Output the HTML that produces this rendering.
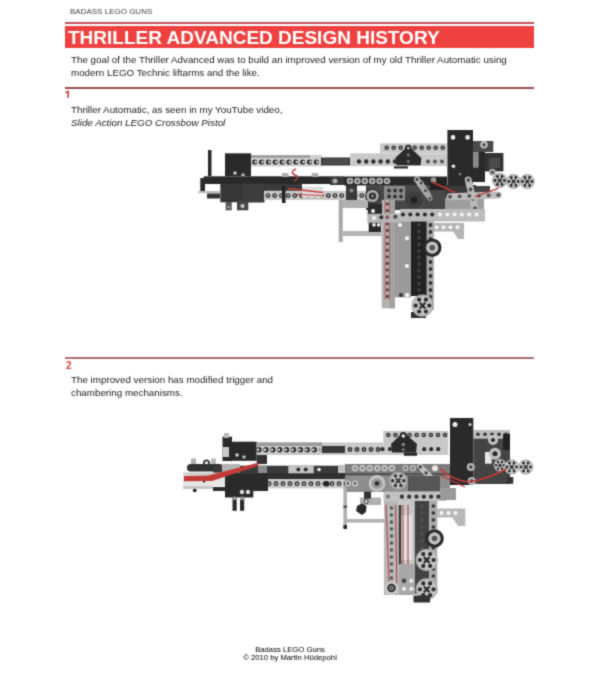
<!DOCTYPE html>
<html><head><meta charset="utf-8">
<style>
html,body{margin:0;padding:0;background:#fff;}
body{width:600px;height:675px;position:relative;overflow:hidden;filter:url(#sb);font-family:"Liberation Sans",sans-serif;color:#333;}
.abs{position:absolute;white-space:nowrap;}
#hdr{left:70px;top:7px;font-size:8px;color:#444;letter-spacing:0px;}
#rl0{left:65px;top:22px;width:469px;height:2px;background:#c3515d;}
#tbox{left:65px;top:26px;width:469px;height:22px;background:#ef4240;}
#title{left:68px;top:27px;font-size:19px;font-weight:bold;color:#fff;line-height:22px;}
.body{font-size:9.8px;line-height:12.5px;color:#222;}
.rl{position:absolute;left:65px;width:469px;height:2px;background:#974c4c;}
.num{font-size:10px;font-weight:bold;color:#e04040;}
#foot{left:-10px;width:600px;text-align:center;top:646px;font-size:7.7px;line-height:7.5px;color:#000;}
svg{position:absolute;left:0;top:0;}
</style></head>
<body>
<svg width="0" height="0" style="position:absolute"><filter id="sb" color-interpolation-filters="sRGB" x="0" y="0" width="100%" height="100%"><feConvolveMatrix order="3" kernelMatrix="0.02768 0.11101 0.02768 0.11101 0.44521 0.11101 0.02768 0.11101 0.02768" edgeMode="duplicate"/></filter></svg>
<div class="abs" id="hdr">BADASS LEGO GUNS</div>
<div class="abs" id="rl0"></div>
<div class="abs" id="tbox"></div>
<div class="abs" id="title">THRILLER ADVANCED DESIGN HISTORY</div>
<div class="abs body" style="left:71px;top:54px;">The goal of the Thriller Advanced was to build an improved version of my old Thriller Automatic using<br>modern LEGO Technic liftarms and the like.</div>
<div class="rl" style="top:86.5px;"></div>
<svg width="12" height="12" viewBox="0 0 12 12" style="position:absolute;left:63px;top:89px;"><path d="M4.2,1.6 L6,1.6 L6,8.8 L4.2,8.8 Z M2.2,3.4 L4.2,1.6 L4.2,3.6 L2.2,4.8 Z" fill="#d84a4a"/></svg>
<div class="abs body" style="left:71px;top:104px;">Thriller Automatic, as seen in my YouTube video,<br><i>Slide Action LEGO Crossbow Pistol</i></div>
<div class="rl" style="top:357px;background:#ab6f6f;"></div>
<div class="abs num" style="left:66px;top:359.5px;">2</div>
<div class="abs body" style="left:71px;top:374px;">The improved version has modified trigger and<br>chambering mechanisms.</div>
<div class="abs" id="foot">Badass LEGO Guns<br>© 2010 by Martin Hüdepohl</div>


























<!--GUNS--><svg width="600" height="675" viewBox="0 0 600 675"><rect x="208" y="150" width="3.5" height="26" fill="#2a2a2a" />
<rect x="250" y="155" width="72" height="11.5" fill="#cfcfcf" />
<rect x="250" y="155.3" width="60" height="2.5" fill="#9a9a9a" />
<circle cx="254.7" cy="162" r="2.6" fill="#2e2e2e" />
<circle cx="255.6" cy="162" r="1.2" fill="#dcdcdc" />
<circle cx="261.55" cy="162" r="2.6" fill="#2e2e2e" />
<circle cx="262.45" cy="162" r="1.2" fill="#dcdcdc" />
<circle cx="268.4" cy="162" r="2.6" fill="#2e2e2e" />
<circle cx="269.3" cy="162" r="1.2" fill="#dcdcdc" />
<circle cx="275.25" cy="162" r="2.6" fill="#2e2e2e" />
<circle cx="276.15" cy="162" r="1.2" fill="#dcdcdc" />
<circle cx="282.1" cy="162" r="2.6" fill="#2e2e2e" />
<circle cx="283.0" cy="162" r="1.2" fill="#dcdcdc" />
<circle cx="288.95" cy="162" r="2.6" fill="#2e2e2e" />
<circle cx="289.85" cy="162" r="1.2" fill="#dcdcdc" />
<circle cx="295.8" cy="162" r="2.6" fill="#2e2e2e" />
<circle cx="296.7" cy="162" r="1.2" fill="#dcdcdc" />
<circle cx="302.65" cy="162" r="2.6" fill="#2e2e2e" />
<circle cx="303.55" cy="162" r="1.2" fill="#dcdcdc" />
<circle cx="309.5" cy="162" r="2.6" fill="#2e2e2e" />
<circle cx="310.4" cy="162" r="1.2" fill="#dcdcdc" />
<circle cx="316.35" cy="162" r="2.6" fill="#2e2e2e" />
<circle cx="317.25" cy="162" r="1.2" fill="#dcdcdc" />
<rect x="321" y="157.5" width="29" height="8.0" fill="#3c3c3c" />
<rect x="323" y="159" width="25" height="5" fill="#4c4c4c" />
<rect x="350" y="153.3" width="97" height="12.7" fill="#c9c9c9" />
<circle cx="359" cy="161.5" r="2.2" fill="#2e2e2e" />
<circle cx="366.2" cy="161.5" r="2.2" fill="#2e2e2e" />
<circle cx="373.4" cy="161.5" r="2.2" fill="#2e2e2e" />
<circle cx="380.6" cy="161.5" r="2.2" fill="#2e2e2e" />
<circle cx="387.8" cy="161.5" r="2.2" fill="#2e2e2e" />
<circle cx="395.0" cy="161.5" r="2.2" fill="#2e2e2e" />
<circle cx="428" cy="161.5" r="2" fill="#555" />
<circle cx="435" cy="161.5" r="2" fill="#555" />
<circle cx="442" cy="161.5" r="2" fill="#555" />
<rect x="380" y="143.3" width="67" height="9.7" fill="#c9c9c9" />
<circle cx="386.7" cy="147.8" r="2.3" fill="#3a3a3a" />
<circle cx="386.7" cy="147.8" r="0.9" fill="#a0a0a0" />
<circle cx="393.7" cy="147.8" r="2.3" fill="#3a3a3a" />
<circle cx="393.7" cy="147.8" r="0.9" fill="#a0a0a0" />
<circle cx="400.7" cy="147.8" r="2.3" fill="#3a3a3a" />
<circle cx="400.7" cy="147.8" r="0.9" fill="#a0a0a0" />
<circle cx="407.7" cy="147.8" r="2.3" fill="#3a3a3a" />
<circle cx="407.7" cy="147.8" r="0.9" fill="#a0a0a0" />
<circle cx="414.7" cy="147.8" r="2.3" fill="#3a3a3a" />
<circle cx="414.7" cy="147.8" r="0.9" fill="#a0a0a0" />
<circle cx="421.7" cy="147.8" r="2.3" fill="#3a3a3a" />
<circle cx="421.7" cy="147.8" r="0.9" fill="#a0a0a0" />
<circle cx="428.7" cy="147.8" r="2.3" fill="#3a3a3a" />
<circle cx="428.7" cy="147.8" r="0.9" fill="#a0a0a0" />
<circle cx="435.7" cy="147.8" r="2.3" fill="#3a3a3a" />
<circle cx="435.7" cy="147.8" r="0.9" fill="#a0a0a0" />
<circle cx="442.7" cy="147.8" r="2.3" fill="#3a3a3a" />
<circle cx="442.7" cy="147.8" r="0.9" fill="#a0a0a0" />
<polygon points="408.3,145.5 395.3,158 396.3,165.3 420.7,165.3 421.3,158" fill="#2a2a2a" />
<circle cx="408.3" cy="148" r="3.2" fill="#2a2a2a" />
<circle cx="408.3" cy="148" r="1.5" fill="#aaa" />
<circle cx="408.3" cy="155" r="1.6" fill="#777" />
<circle cx="408.3" cy="161.5" r="1.6" fill="#777" />
<rect x="394" y="166.3" width="14" height="2.2" fill="#2a2a2a" />
<rect x="225" y="153.3" width="26" height="23.0" fill="#2a2a2a" />
<circle cx="235" cy="173" r="1.8" fill="#ccc" />
<circle cx="243" cy="175" r="1.8" fill="#bbb" />
<rect x="203.7" y="176.3" width="140.3" height="7.7" fill="#2a2a2a" />
<rect x="200.3" y="178" width="4.7" height="13.7" fill="#2a2a2a" />
<rect x="198.3" y="191" width="21.4" height="2.2" fill="#bdbdbd" />
<rect x="207" y="193.5" width="13" height="5.0" fill="#333" />
<rect x="220.3" y="183.7" width="44.0" height="18.6" fill="#363636" />
<rect x="242" y="183.7" width="22.3" height="18.6" fill="#3d3d3d" />
<rect x="225.7" y="202" width="6.0" height="8.3" fill="#555" />
<rect x="237" y="201" width="11.3" height="9.3" fill="#444" />
<circle cx="242.5" cy="206" r="2.2" fill="#bbb" />
<circle cx="228.7" cy="207" r="1.6" fill="#999" />
<rect x="282" y="173" width="6.5" height="4" fill="#b0b0b0" />
<rect x="311.7" y="173" width="6.6" height="4" fill="#b0b0b0" />
<rect x="264" y="190.8" width="102" height="9.2" fill="#c9c9c9" />
<circle cx="268" cy="195.6" r="2.4" fill="#2e2e2e" />
<circle cx="268" cy="195.6" r="1.0" fill="#d0d0d0" />
<circle cx="274.7" cy="195.6" r="2.4" fill="#2e2e2e" />
<circle cx="274.7" cy="195.6" r="1.0" fill="#d0d0d0" />
<circle cx="281.4" cy="195.6" r="2.4" fill="#2e2e2e" />
<circle cx="281.4" cy="195.6" r="1.0" fill="#d0d0d0" />
<circle cx="288.1" cy="195.6" r="2.4" fill="#2e2e2e" />
<circle cx="288.1" cy="195.6" r="1.0" fill="#d0d0d0" />
<circle cx="294.8" cy="195.6" r="2.4" fill="#2e2e2e" />
<circle cx="294.8" cy="195.6" r="1.0" fill="#d0d0d0" />
<circle cx="301.5" cy="195.6" r="2.4" fill="#2e2e2e" />
<circle cx="301.5" cy="195.6" r="1.0" fill="#d0d0d0" />
<circle cx="308.2" cy="195.6" r="2.4" fill="#2e2e2e" />
<circle cx="308.2" cy="195.6" r="1.0" fill="#d0d0d0" />
<circle cx="314.9" cy="195.6" r="2.4" fill="#2e2e2e" />
<circle cx="314.9" cy="195.6" r="1.0" fill="#d0d0d0" />
<circle cx="321.6" cy="195.6" r="2.4" fill="#2e2e2e" />
<circle cx="321.6" cy="195.6" r="1.0" fill="#d0d0d0" />
<circle cx="328.3" cy="195.6" r="2.4" fill="#2e2e2e" />
<circle cx="328.3" cy="195.6" r="1.0" fill="#d0d0d0" />
<circle cx="335.0" cy="195.6" r="2.4" fill="#2e2e2e" />
<circle cx="335.0" cy="195.6" r="1.0" fill="#d0d0d0" />
<circle cx="341.7" cy="195.6" r="2.4" fill="#2e2e2e" />
<circle cx="341.7" cy="195.6" r="1.0" fill="#d0d0d0" />
<circle cx="348.4" cy="195.6" r="2.4" fill="#2e2e2e" />
<circle cx="348.4" cy="195.6" r="1.0" fill="#d0d0d0" />
<circle cx="355.1" cy="195.6" r="2.4" fill="#2e2e2e" />
<circle cx="355.1" cy="195.6" r="1.0" fill="#d0d0d0" />
<circle cx="361.8" cy="195.6" r="2.4" fill="#2e2e2e" />
<circle cx="361.8" cy="195.6" r="1.0" fill="#d0d0d0" />
<rect x="264" y="184" width="38" height="6.8" fill="#3a3a3a" />
<rect x="282" y="185.7" width="3.5" height="17.3" fill="#222" />
<rect x="346" y="185" width="11" height="15" fill="#3a3a3a" />
<circle cx="351.5" cy="190.5" r="2" fill="#888" />
<rect x="302" y="186.7" width="21.3" height="10.8" fill="#dedede" />
<path d="M296,169 q-7,3 -1,6 q6,2 -1,6" stroke="#c23b37" stroke-width="1.4" fill="none" />
<line x1="288" y1="188.5" x2="323" y2="192.5" stroke="#c23b37" stroke-width="1.4" />
<line x1="297" y1="194.5" x2="323" y2="195.5" stroke="#c23b37" stroke-width="1.2" />
<rect x="344" y="176.5" width="103" height="9.0" fill="#2a2a2a" />
<circle cx="350" cy="181" r="3.3" fill="#b5b5b5" />
<circle cx="350" cy="181" r="1.4" fill="#5a5a5a" />
<circle cx="357.4" cy="181" r="3.3" fill="#b5b5b5" />
<circle cx="357.4" cy="181" r="1.4" fill="#5a5a5a" />
<circle cx="364.8" cy="181" r="3.3" fill="#b5b5b5" />
<circle cx="364.8" cy="181" r="1.4" fill="#5a5a5a" />
<circle cx="372.2" cy="181" r="3.3" fill="#b5b5b5" />
<circle cx="372.2" cy="181" r="1.4" fill="#5a5a5a" />
<circle cx="379.6" cy="181" r="3.3" fill="#b5b5b5" />
<circle cx="379.6" cy="181" r="1.4" fill="#5a5a5a" />
<circle cx="387.0" cy="181" r="3.3" fill="#b5b5b5" />
<circle cx="387.0" cy="181" r="1.4" fill="#5a5a5a" />
<rect x="330" y="177" width="14" height="8" fill="#3a3a3a" />
<circle cx="335" cy="181" r="2.5" fill="#aaa" />
<rect x="366" y="185" width="79" height="25" fill="#474747" />
<circle cx="372.5" cy="196" r="7.5" fill="#2a2a2a" />
<circle cx="372.5" cy="196" r="6.3" fill="#a8a8a8" />
<circle cx="372.5" cy="196" r="3.6" fill="#2e2e2e" />
<circle cx="372.5" cy="196" r="1.4" fill="#888" />
<rect x="367.7" y="204" width="18.0" height="11" fill="#2e2e2e" />
<circle cx="373" cy="211" r="2" fill="#eee" />
<rect x="384" y="186" width="21" height="14.5" fill="#8c8c8c" />
<circle cx="389" cy="190.5" r="1.9" fill="#333" />
<circle cx="395" cy="190.5" r="1.9" fill="#333" />
<circle cx="401" cy="190.5" r="1.9" fill="#333" />
<circle cx="389" cy="196.5" r="1.9" fill="#333" />
<circle cx="395" cy="196.5" r="1.9" fill="#333" />
<circle cx="401" cy="196.5" r="1.9" fill="#333" />
<circle cx="414" cy="200" r="8.5" fill="#3d3d3d" />
<circle cx="414" cy="200" r="3.57" fill="#222" />
<line x1="417" y1="179.5" x2="428" y2="195" stroke="#b8b8b8" stroke-width="6" stroke-linecap="round"/>
<circle cx="417.0" cy="179.5" r="1.68" fill="#444" />
<circle cx="422.5" cy="187.25" r="1.68" fill="#444" />
<circle cx="428.0" cy="195.0" r="1.68" fill="#444" />
<line x1="421" y1="183" x2="430" y2="198.3" stroke="#a5a5a5" stroke-width="5" stroke-linecap="round"/>
<circle cx="421.0" cy="183.0" r="1.4" fill="#444" />
<circle cx="425.5" cy="190.65" r="1.4" fill="#444" />
<circle cx="430.0" cy="198.3" r="1.4" fill="#444" />
<rect x="430" y="178" width="17" height="12" fill="#232323" />
<circle cx="433.5" cy="180" r="2.8" fill="#999" />
<rect x="445" y="185" width="31" height="15" fill="#3a3a3a" />
<rect x="445" y="198" width="39" height="12" fill="#9e9e9e" />
<rect x="476" y="186" width="14" height="12" fill="#444" />
<rect x="447.4" y="130" width="25.6" height="56" fill="#2a2a2a" />
<circle cx="453" cy="137.4" r="2.3" fill="#eee" />
<circle cx="467.6" cy="137.4" r="2.3" fill="#eee" />
<circle cx="453.4" cy="166.2" r="1.8" fill="#eee" />
<circle cx="460" cy="174" r="1.5" fill="#777" />
<rect x="473" y="141" width="20.3" height="11" fill="#4a4a4a" />
<circle cx="484" cy="144.8" r="3.8" fill="#bdbdbd" />
<circle cx="484" cy="144.8" r="1.6" fill="#444" />
<rect x="473" y="152" width="12" height="30" fill="#2a2a2a" />
<rect x="473" y="152" width="5.6" height="15.7" fill="#8a8a8a" />
<rect x="485" y="153" width="18.4" height="18.4" fill="#333" />
<rect x="489" y="158" width="11" height="10" fill="#4a4a4a" />
<circle cx="492.4" cy="172.3" r="3.5" fill="#b0b0b0" />
<circle cx="492.4" cy="172.3" r="1.5" fill="#444" />
<circle cx="499.7" cy="180.5" r="7.5" fill="#bdbdbd" />
<circle cx="499.7" cy="180.5" r="6.98" fill="none" stroke="#8a8a8a" stroke-width="0.6"/>
<circle cx="504.35" cy="180.5" r="1.43" fill="#2a2a2a" />
<circle cx="502.02" cy="184.53" r="1.43" fill="#2a2a2a" />
<circle cx="497.38" cy="184.53" r="1.43" fill="#2a2a2a" />
<circle cx="495.05" cy="180.5" r="1.43" fill="#2a2a2a" />
<circle cx="497.38" cy="176.47" r="1.43" fill="#2a2a2a" />
<circle cx="502.02" cy="176.47" r="1.43" fill="#2a2a2a" />
<line x1="497.75" y1="178.55" x2="501.65" y2="182.45" stroke="#2a2a2a" stroke-width="1.5" />
<line x1="497.75" y1="182.45" x2="501.65" y2="178.55" stroke="#2a2a2a" stroke-width="1.5" />
<circle cx="513.5" cy="181.5" r="7.5" fill="#c8c8c8" />
<circle cx="513.5" cy="181.5" r="6.98" fill="none" stroke="#8a8a8a" stroke-width="0.6"/>
<circle cx="518.15" cy="181.5" r="1.43" fill="#2a2a2a" />
<circle cx="515.83" cy="185.53" r="1.43" fill="#2a2a2a" />
<circle cx="511.18" cy="185.53" r="1.43" fill="#2a2a2a" />
<circle cx="508.85" cy="181.5" r="1.43" fill="#2a2a2a" />
<circle cx="511.18" cy="177.47" r="1.43" fill="#2a2a2a" />
<circle cx="515.83" cy="177.47" r="1.43" fill="#2a2a2a" />
<line x1="511.55" y1="179.55" x2="515.45" y2="183.45" stroke="#2a2a2a" stroke-width="1.5" />
<line x1="511.55" y1="183.45" x2="515.45" y2="179.55" stroke="#2a2a2a" stroke-width="1.5" />
<circle cx="527.2" cy="181.5" r="7.5" fill="#c8c8c8" />
<circle cx="527.2" cy="181.5" r="6.98" fill="none" stroke="#8a8a8a" stroke-width="0.6"/>
<circle cx="531.85" cy="181.5" r="1.43" fill="#2a2a2a" />
<circle cx="529.53" cy="185.53" r="1.43" fill="#2a2a2a" />
<circle cx="524.88" cy="185.53" r="1.43" fill="#2a2a2a" />
<circle cx="522.55" cy="181.5" r="1.43" fill="#2a2a2a" />
<circle cx="524.88" cy="177.47" r="1.43" fill="#2a2a2a" />
<circle cx="529.53" cy="177.47" r="1.43" fill="#2a2a2a" />
<line x1="525.25" y1="179.55" x2="529.15" y2="183.45" stroke="#2a2a2a" stroke-width="1.5" />
<line x1="525.25" y1="183.45" x2="529.15" y2="179.55" stroke="#2a2a2a" stroke-width="1.5" />
<line x1="468.3" y1="180" x2="475" y2="208.3" stroke="#bababa" stroke-width="7" stroke-linecap="round"/>
<circle cx="468.3" cy="180.0" r="1.96" fill="#555" />
<circle cx="470.53" cy="189.43" r="1.96" fill="#555" />
<circle cx="472.77" cy="198.87" r="1.96" fill="#555" />
<circle cx="475.0" cy="208.3" r="1.96" fill="#555" />
<line x1="450" y1="196.7" x2="498.3" y2="195" stroke="#bcbcbc" stroke-width="7" stroke-linecap="round"/>
<circle cx="450.0" cy="196.7" r="1.96" fill="#555" />
<circle cx="459.66" cy="196.36" r="1.96" fill="#555" />
<circle cx="469.32" cy="196.02" r="1.96" fill="#555" />
<circle cx="478.98" cy="195.68" r="1.96" fill="#555" />
<circle cx="488.64" cy="195.34" r="1.96" fill="#555" />
<circle cx="498.3" cy="195.0" r="1.96" fill="#555" />
<line x1="431.7" y1="181.7" x2="455" y2="192.5" stroke="#c23b37" stroke-width="1.6" />
<line x1="475" y1="196.7" x2="498.3" y2="188.3" stroke="#c23b37" stroke-width="1.4" />
<rect x="381.7" y="200" width="13.3" height="108.3" fill="#b2b2b2" />
<rect x="389.4" y="200" width="5.6" height="108.3" fill="#a2a2a2" />
<line x1="385.2" y1="201" x2="385.2" y2="300" stroke="#c05050" stroke-width="1.0" />
<line x1="389.4" y1="201" x2="389.4" y2="300" stroke="#c05050" stroke-width="1.0" />
<circle cx="387.3" cy="204" r="1.6" fill="#4a4a4a" />
<circle cx="387.3" cy="210.6" r="1.6" fill="#4a4a4a" />
<circle cx="387.3" cy="217.2" r="1.6" fill="#4a4a4a" />
<circle cx="387.3" cy="223.8" r="1.6" fill="#4a4a4a" />
<circle cx="387.3" cy="230.4" r="1.6" fill="#4a4a4a" />
<circle cx="387.3" cy="237.0" r="1.6" fill="#4a4a4a" />
<circle cx="387.3" cy="243.6" r="1.6" fill="#4a4a4a" />
<circle cx="387.3" cy="250.2" r="1.6" fill="#4a4a4a" />
<circle cx="387.3" cy="256.8" r="1.6" fill="#4a4a4a" />
<circle cx="387.3" cy="263.4" r="1.6" fill="#4a4a4a" />
<circle cx="387.3" cy="270.0" r="1.6" fill="#4a4a4a" />
<circle cx="387.3" cy="276.6" r="1.6" fill="#4a4a4a" />
<circle cx="387.3" cy="283.2" r="1.6" fill="#4a4a4a" />
<circle cx="387.3" cy="289.8" r="1.6" fill="#4a4a4a" />
<circle cx="387.3" cy="296.4" r="1.6" fill="#4a4a4a" />
<rect x="395" y="220.5" width="16" height="76.9" fill="#9a9a9a" />
<circle cx="400" cy="225" r="2.1" fill="#f4f4f4" />
<circle cx="407" cy="238.3" r="2.1" fill="#f4f4f4" />
<circle cx="407" cy="266" r="2.1" fill="#f4f4f4" />
<circle cx="415" cy="238.3" r="2.1" fill="#f4f4f4" />
<circle cx="415" cy="268" r="2.1" fill="#f4f4f4" />
<circle cx="407" cy="295" r="2.1" fill="#f4f4f4" />
<rect x="411" y="220.5" width="15.8" height="75.5" fill="#232323" />
<circle cx="419" cy="225" r="1.8" fill="#444" />
<circle cx="419" cy="231.5" r="1.8" fill="#444" />
<circle cx="419" cy="238.0" r="1.8" fill="#444" />
<circle cx="419" cy="244.5" r="1.8" fill="#444" />
<circle cx="419" cy="251.0" r="1.8" fill="#444" />
<circle cx="419" cy="257.5" r="1.8" fill="#444" />
<circle cx="419" cy="264.0" r="1.8" fill="#444" />
<circle cx="419" cy="270.5" r="1.8" fill="#444" />
<circle cx="419" cy="277.0" r="1.8" fill="#444" />
<circle cx="419" cy="283.5" r="1.8" fill="#444" />
<circle cx="419" cy="290.0" r="1.8" fill="#444" />
<rect x="426.8" y="220.5" width="7.2" height="89.5" fill="#ababab" />
<circle cx="430.5" cy="225" r="1.9" fill="#333" />
<circle cx="430.5" cy="232" r="1.9" fill="#333" />
<circle cx="430.5" cy="239" r="1.9" fill="#333" />
<circle cx="430.5" cy="262" r="1.9" fill="#333" />
<circle cx="430.5" cy="269" r="1.9" fill="#333" />
<circle cx="430.5" cy="276" r="1.9" fill="#333" />
<circle cx="430.5" cy="283" r="1.9" fill="#333" />
<circle cx="430.5" cy="290" r="1.9" fill="#333" />
<circle cx="430.5" cy="297" r="1.9" fill="#333" />
<circle cx="430.5" cy="304" r="1.9" fill="#333" />
<circle cx="432.2" cy="247.7" r="9.3" fill="#2a2a2a" />
<circle cx="432.2" cy="247.7" r="6.14" fill="#c2c2c2" />
<circle cx="432.2" cy="247.7" r="2.79" fill="#555" />
<rect x="411" y="312" width="15" height="6" fill="#333" />
<circle cx="422.5" cy="305.6" r="11" fill="#c4c4c4" />
<circle cx="422.5" cy="305.6" r="10.23" fill="none" stroke="#8a8a8a" stroke-width="0.6"/>
<circle cx="429.32" cy="305.6" r="2.09" fill="#2a2a2a" />
<circle cx="425.91" cy="311.51" r="2.09" fill="#2a2a2a" />
<circle cx="419.09" cy="311.51" r="2.09" fill="#2a2a2a" />
<circle cx="415.68" cy="305.6" r="2.09" fill="#2a2a2a" />
<circle cx="419.09" cy="299.69" r="2.09" fill="#2a2a2a" />
<circle cx="425.91" cy="299.69" r="2.09" fill="#2a2a2a" />
<line x1="419.64" y1="302.74" x2="425.36" y2="308.46" stroke="#2a2a2a" stroke-width="2.2" />
<line x1="419.64" y1="308.46" x2="425.36" y2="302.74" stroke="#2a2a2a" stroke-width="2.2" />
<circle cx="401" cy="295" r="2" fill="#333" />
<circle cx="407.5" cy="295" r="2" fill="#f2f2f2" />
<rect x="400" y="209" width="85" height="12.5" fill="#bcbcbc" />
<circle cx="403" cy="214.5" r="2.1" fill="#2e2e2e" />
<circle cx="410.3" cy="214.5" r="2.1" fill="#2e2e2e" />
<circle cx="417.6" cy="214.5" r="2.1" fill="#2e2e2e" />
<circle cx="424.9" cy="214.5" r="2.1" fill="#2e2e2e" />
<circle cx="432.2" cy="214.5" r="2.1" fill="#2e2e2e" />
<circle cx="440" cy="214.5" r="2.1" fill="#f2f2f2" />
<circle cx="447.3" cy="214.5" r="2.1" fill="#f2f2f2" />
<circle cx="454.6" cy="214.5" r="2.1" fill="#f2f2f2" />
<circle cx="461.9" cy="214.5" r="2.1" fill="#f2f2f2" />
<circle cx="469.2" cy="214.5" r="2.1" fill="#f2f2f2" />
<circle cx="476.5" cy="214.5" r="2.1" fill="#f2f2f2" />
<rect x="367.3" y="213.5" width="32.7" height="9.2" fill="#b6b6b6" />
<circle cx="374" cy="218" r="2" fill="#f2f2f2" />
<circle cx="381.3" cy="217.3" r="2" fill="#2e2e2e" />
<circle cx="387.3" cy="217.3" r="2" fill="#8a5a5a" />
<circle cx="395.3" cy="216.7" r="2" fill="#444" />
<rect x="368" y="204" width="14" height="9.5" fill="#2a2a2a" />
<circle cx="373" cy="211" r="2" fill="#eee" />
<rect x="339" y="200" width="29" height="8" fill="#b0b0b0" />
<rect x="338.7" y="200" width="4.0" height="42" fill="#a8a8a8" />
<rect x="342.7" y="231" width="39.0" height="5" fill="#b4b4b4" />
<rect x="368.7" y="222.7" width="12.3" height="9.3" fill="#2a2a2a" />
<circle cx="374" cy="224.9" r="1.8" fill="#eee" />
<circle cx="378.7" cy="224.9" r="1.8" fill="#eee" />
<rect x="434" y="223" width="30" height="8.5" fill="#b5b5b5" />
<circle cx="436.5" cy="227.3" r="2" fill="#f4f4f4" />
<circle cx="443.5" cy="227.3" r="2" fill="#f4f4f4" />
<circle cx="450.5" cy="227.3" r="2" fill="#f4f4f4" />
<circle cx="457.5" cy="227.3" r="2" fill="#f4f4f4" />
<polygon points="453,231 464,231 464,239 458,239" fill="#b5b5b5" />
<rect x="222.5" y="436.7" width="9.5" height="24.3" fill="#2a2a2a" />
<rect x="224" y="433" width="5" height="5" fill="#bbb" />
<rect x="228" y="441.7" width="28.7" height="19.1" fill="#2a2a2a" />
<rect x="222.5" y="447" width="6.5" height="10" fill="#c8c8c8" />
<circle cx="237" cy="455" r="1.8" fill="#ccc" />
<circle cx="244" cy="457" r="1.8" fill="#bbb" />
<rect x="256.7" y="442.5" width="126.6" height="12.5" fill="#c9c9c9" />
<rect x="256.7" y="442.4" width="65.3" height="3.6" fill="#9c9c9c" />
<circle cx="259" cy="449.8" r="2.7" fill="#2e2e2e" />
<circle cx="258.1" cy="449.8" r="1.3" fill="#e0e0e0" />
<circle cx="265.9" cy="449.8" r="2.7" fill="#2e2e2e" />
<circle cx="265.0" cy="449.8" r="1.3" fill="#e0e0e0" />
<circle cx="272.8" cy="449.8" r="2.7" fill="#2e2e2e" />
<circle cx="271.9" cy="449.8" r="1.3" fill="#e0e0e0" />
<circle cx="279.7" cy="449.8" r="2.7" fill="#2e2e2e" />
<circle cx="278.8" cy="449.8" r="1.3" fill="#e0e0e0" />
<circle cx="286.6" cy="449.8" r="2.7" fill="#2e2e2e" />
<circle cx="285.7" cy="449.8" r="1.3" fill="#e0e0e0" />
<circle cx="293.5" cy="449.8" r="2.7" fill="#2e2e2e" />
<circle cx="292.6" cy="449.8" r="1.3" fill="#e0e0e0" />
<circle cx="300.4" cy="449.8" r="2.7" fill="#2e2e2e" />
<circle cx="299.5" cy="449.8" r="1.3" fill="#e0e0e0" />
<circle cx="307.3" cy="449.8" r="2.7" fill="#2e2e2e" />
<circle cx="306.4" cy="449.8" r="1.3" fill="#e0e0e0" />
<circle cx="314.2" cy="449.8" r="2.7" fill="#2e2e2e" />
<circle cx="313.3" cy="449.8" r="1.3" fill="#e0e0e0" />
<circle cx="320.3" cy="449.8" r="2.4" fill="#aaa" />
<rect x="322" y="446" width="23" height="7" fill="#3a3a3a" />
<circle cx="350" cy="449.5" r="2.4" fill="#2e2e2e" />
<circle cx="350" cy="449.5" r="0.9" fill="#aaa" />
<circle cx="357" cy="449.5" r="2.4" fill="#2e2e2e" />
<circle cx="357" cy="449.5" r="0.9" fill="#aaa" />
<circle cx="364" cy="449.5" r="2.4" fill="#2e2e2e" />
<circle cx="364" cy="449.5" r="0.9" fill="#aaa" />
<circle cx="371" cy="449.5" r="2.4" fill="#2e2e2e" />
<circle cx="371" cy="449.5" r="0.9" fill="#aaa" />
<circle cx="378" cy="449.5" r="2.4" fill="#2e2e2e" />
<circle cx="378" cy="449.5" r="0.9" fill="#aaa" />
<rect x="256.7" y="455" width="10.3" height="9" fill="#333" />
<rect x="383.3" y="430.8" width="65.0" height="9.2" fill="#c9c9c9" />
<circle cx="388.3" cy="435" r="2.3" fill="#333" />
<circle cx="388.3" cy="435" r="0.9" fill="#a0a0a0" />
<circle cx="395.4" cy="435" r="2.3" fill="#333" />
<circle cx="395.4" cy="435" r="0.9" fill="#a0a0a0" />
<circle cx="402.5" cy="435" r="2.3" fill="#333" />
<circle cx="402.5" cy="435" r="0.9" fill="#a0a0a0" />
<circle cx="409.6" cy="435" r="2.3" fill="#333" />
<circle cx="409.6" cy="435" r="0.9" fill="#a0a0a0" />
<circle cx="416.7" cy="435" r="2.3" fill="#333" />
<circle cx="416.7" cy="435" r="0.9" fill="#a0a0a0" />
<circle cx="423.8" cy="435" r="2.3" fill="#333" />
<circle cx="423.8" cy="435" r="0.9" fill="#a0a0a0" />
<circle cx="430.9" cy="435" r="2.3" fill="#333" />
<circle cx="430.9" cy="435" r="0.9" fill="#a0a0a0" />
<circle cx="438.0" cy="435" r="2.3" fill="#333" />
<circle cx="438.0" cy="435" r="0.9" fill="#a0a0a0" />
<circle cx="445.1" cy="435" r="2.3" fill="#333" />
<circle cx="445.1" cy="435" r="0.9" fill="#a0a0a0" />
<rect x="383.3" y="440" width="65.0" height="15" fill="#c9c9c9" />
<circle cx="382.5" cy="449.2" r="2.1" fill="#2e2e2e" />
<circle cx="390.0" cy="449.2" r="2.1" fill="#2e2e2e" />
<circle cx="424.2" cy="449.2" r="2.1" fill="#2e2e2e" />
<circle cx="431.2" cy="449.2" r="2.1" fill="#2e2e2e" />
<circle cx="438.2" cy="449.2" r="2.1" fill="#2e2e2e" />
<polygon points="403.3,432 391,444 392,452.5 416,452.5 417,444" fill="#2a2a2a" />
<circle cx="403.3" cy="435.5" r="3.6" fill="#2a2a2a" />
<circle cx="403.3" cy="436" r="1.7" fill="#eee" />
<circle cx="403.3" cy="444.5" r="1.7" fill="#888" />
<circle cx="403.3" cy="449.5" r="1.5" fill="#777" />
<rect x="404" y="452.5" width="13" height="3.3" fill="#2a2a2a" />
<rect x="450" y="418" width="23.3" height="67" fill="#2a2a2a" />
<circle cx="455" cy="424.5" r="2.5" fill="#eee" />
<circle cx="470" cy="424.5" r="1.6" fill="#ccc" />
<rect x="473.3" y="430" width="36.7" height="54" fill="#444" />
<rect x="473.3" y="430" width="36.7" height="8.7" fill="#bdbdbd" />
<circle cx="478" cy="434.3" r="1.8" fill="#333" />
<circle cx="485" cy="434.3" r="1.8" fill="#333" />
<circle cx="492" cy="434.3" r="1.8" fill="#333" />
<circle cx="499" cy="434.3" r="1.8" fill="#333" />
<circle cx="506" cy="434.3" r="1.8" fill="#333" />
<rect x="503" y="433.7" width="7" height="16.3" fill="#222" />
<rect x="485" y="452" width="6.7" height="11.7" fill="#e8e8e8" />
<circle cx="493" cy="440" r="5" fill="#c4c4c4" />
<circle cx="493" cy="440" r="2.1" fill="#2a2a2a" />
<circle cx="495" cy="453.7" r="6" fill="#c0c0c0" />
<circle cx="495" cy="453.7" r="2.52" fill="#2a2a2a" />
<circle cx="500" cy="465.3" r="6.3" fill="#c4c4c4" />
<circle cx="500" cy="465.3" r="5.86" fill="none" stroke="#8a8a8a" stroke-width="0.6"/>
<circle cx="503.91" cy="465.3" r="1.2" fill="#2a2a2a" />
<circle cx="501.95" cy="468.68" r="1.2" fill="#2a2a2a" />
<circle cx="498.05" cy="468.68" r="1.2" fill="#2a2a2a" />
<circle cx="496.09" cy="465.3" r="1.2" fill="#2a2a2a" />
<circle cx="498.05" cy="461.92" r="1.2" fill="#2a2a2a" />
<circle cx="501.95" cy="461.92" r="1.2" fill="#2a2a2a" />
<line x1="498.36" y1="463.66" x2="501.64" y2="466.94" stroke="#2a2a2a" stroke-width="1.26" />
<line x1="498.36" y1="466.94" x2="501.64" y2="463.66" stroke="#2a2a2a" stroke-width="1.26" />
<circle cx="511.7" cy="467" r="7.5" fill="#cfcfcf" />
<circle cx="511.7" cy="467" r="6.98" fill="none" stroke="#8a8a8a" stroke-width="0.6"/>
<circle cx="516.35" cy="467.0" r="1.43" fill="#2a2a2a" />
<circle cx="514.02" cy="471.03" r="1.43" fill="#2a2a2a" />
<circle cx="509.38" cy="471.03" r="1.43" fill="#2a2a2a" />
<circle cx="507.05" cy="467.0" r="1.43" fill="#2a2a2a" />
<circle cx="509.38" cy="462.97" r="1.43" fill="#2a2a2a" />
<circle cx="514.02" cy="462.97" r="1.43" fill="#2a2a2a" />
<line x1="509.75" y1="465.05" x2="513.65" y2="468.95" stroke="#2a2a2a" stroke-width="1.5" />
<line x1="509.75" y1="468.95" x2="513.65" y2="465.05" stroke="#2a2a2a" stroke-width="1.5" />
<circle cx="525.8" cy="467" r="7.5" fill="#cfcfcf" />
<circle cx="525.8" cy="467" r="6.98" fill="none" stroke="#8a8a8a" stroke-width="0.6"/>
<circle cx="530.45" cy="467.0" r="1.43" fill="#2a2a2a" />
<circle cx="528.12" cy="471.03" r="1.43" fill="#2a2a2a" />
<circle cx="523.47" cy="471.03" r="1.43" fill="#2a2a2a" />
<circle cx="521.15" cy="467.0" r="1.43" fill="#2a2a2a" />
<circle cx="523.47" cy="462.97" r="1.43" fill="#2a2a2a" />
<circle cx="528.12" cy="462.97" r="1.43" fill="#2a2a2a" />
<line x1="523.85" y1="465.05" x2="527.75" y2="468.95" stroke="#2a2a2a" stroke-width="1.5" />
<line x1="523.85" y1="468.95" x2="527.75" y2="465.05" stroke="#2a2a2a" stroke-width="1.5" />
<circle cx="470.8" cy="467" r="4" fill="#b5b5b5" />
<circle cx="470.8" cy="467" r="1.8" fill="#444" />
<circle cx="471.7" cy="481" r="4" fill="#b5b5b5" />
<circle cx="471.7" cy="481" r="1.8" fill="#444" />
<rect x="506.7" y="477" width="6.6" height="6.7" fill="#333" />
<rect x="191" y="458.5" width="5" height="5.5" fill="#b0b0b0" />
<rect x="211" y="458.5" width="5" height="6.5" fill="#b8b8b8" />
<circle cx="206.5" cy="463" r="3.5" fill="#333" />
<circle cx="206.5" cy="463" r="1.8" fill="#eee" />
<rect x="187" y="464" width="36" height="7.5" rx="3.5" fill="#333"/>
<rect x="213" y="465.7" width="237" height="7.3" fill="#3a3a3a" />
<rect x="213" y="473" width="237" height="6" fill="#303030" />
<rect x="258" y="465.7" width="9" height="7.3" fill="#8a8a8a" />
<rect x="222" y="464" width="18" height="8.5" fill="#b4b4b4" />
<rect x="288.3" y="465.7" width="25.4" height="7.6" fill="#c4c4c4" />
<circle cx="298.3" cy="469.5" r="2" fill="#333" />
<circle cx="305.7" cy="469.5" r="2" fill="#333" />
<circle cx="319" cy="469.5" r="1.8" fill="#eee" />
<rect x="338" y="465.7" width="9" height="7.3" fill="#c0c0c0" />
<rect x="183" y="472.5" width="43" height="3.0" fill="#cfcfcf" />
<rect x="183" y="475.5" width="43" height="10.5" fill="#e6e6e6" />
<rect x="183" y="486" width="30" height="3" fill="#c8c8c8" />
<rect x="213" y="487" width="12" height="4" fill="#2e2e2e" />
<rect x="193" y="489" width="3.5" height="3" fill="#2a2a2a" />
<circle cx="204" cy="481.5" r="1.2" fill="#333" />
<rect x="225" y="474" width="43" height="17" fill="#2a2a2a" />
<rect x="225" y="491" width="28.3" height="6.5" fill="#2a2a2a" />
<circle cx="242" cy="492" r="2.2" fill="#ddd" />
<circle cx="248" cy="492" r="2.2" fill="#ddd" />
<rect x="232.5" y="496.7" width="4.2" height="14.1" fill="#2a2a2a" />
<rect x="240" y="496.7" width="4.2" height="14.1" fill="#2a2a2a" />
<rect x="232.5" y="496.7" width="4.2" height="3.3" fill="#999" />
<rect x="240" y="496.7" width="4.2" height="3.3" fill="#999" />
<rect x="268" y="479" width="98" height="9.3" fill="#c9c9c9" />
<circle cx="269" cy="483.7" r="2.4" fill="#333" />
<circle cx="269" cy="483.7" r="1.0" fill="#c8c8c8" />
<circle cx="276" cy="483.7" r="2.4" fill="#333" />
<circle cx="276" cy="483.7" r="1.0" fill="#c8c8c8" />
<circle cx="283" cy="483.7" r="2.4" fill="#333" />
<circle cx="283" cy="483.7" r="1.0" fill="#c8c8c8" />
<circle cx="290" cy="483.7" r="2.4" fill="#333" />
<circle cx="290" cy="483.7" r="1.0" fill="#c8c8c8" />
<circle cx="297" cy="483.7" r="2.4" fill="#333" />
<circle cx="297" cy="483.7" r="1.0" fill="#c8c8c8" />
<circle cx="304" cy="483.7" r="2.4" fill="#333" />
<circle cx="304" cy="483.7" r="1.0" fill="#c8c8c8" />
<circle cx="311" cy="483.7" r="2.4" fill="#333" />
<circle cx="311" cy="483.7" r="1.0" fill="#c8c8c8" />
<circle cx="318" cy="483.7" r="2.4" fill="#333" />
<circle cx="318" cy="483.7" r="1.0" fill="#c8c8c8" />
<circle cx="325" cy="483.7" r="2.4" fill="#333" />
<circle cx="325" cy="483.7" r="1.0" fill="#c8c8c8" />
<circle cx="332" cy="483.7" r="2.4" fill="#333" />
<circle cx="332" cy="483.7" r="1.0" fill="#c8c8c8" />
<circle cx="339" cy="483.7" r="2.4" fill="#333" />
<circle cx="339" cy="483.7" r="1.0" fill="#c8c8c8" />
<circle cx="346" cy="483.7" r="2.4" fill="#333" />
<circle cx="346" cy="483.7" r="1.0" fill="#c8c8c8" />
<circle cx="353" cy="483.7" r="2.4" fill="#333" />
<circle cx="353" cy="483.7" r="1.0" fill="#c8c8c8" />
<circle cx="360" cy="483.7" r="2.4" fill="#333" />
<circle cx="360" cy="483.7" r="1.0" fill="#c8c8c8" />
<circle cx="326.7" cy="483.7" r="2.8" fill="#222" />
<circle cx="354.7" cy="483.7" r="2.8" fill="#222" />
<polygon points="184,476 208,475.5 258,462.8 258.6,465.6 212,481 184,481.2" fill="#c23b37" />
<rect x="345" y="464" width="105" height="9" fill="#7c7c7c" />
<circle cx="355" cy="468.2" r="3.2" fill="#c4c4c4" />
<circle cx="355" cy="468.2" r="1.3" fill="#777" />
<circle cx="362.4" cy="468.2" r="3.2" fill="#c4c4c4" />
<circle cx="362.4" cy="468.2" r="1.3" fill="#777" />
<circle cx="369.8" cy="468.2" r="3.2" fill="#c4c4c4" />
<circle cx="369.8" cy="468.2" r="1.3" fill="#777" />
<circle cx="377.2" cy="468.2" r="3.2" fill="#c4c4c4" />
<circle cx="377.2" cy="468.2" r="1.3" fill="#777" />
<circle cx="384.6" cy="468.2" r="3.2" fill="#c4c4c4" />
<circle cx="384.6" cy="468.2" r="1.3" fill="#777" />
<circle cx="392.0" cy="468.2" r="3.2" fill="#c4c4c4" />
<circle cx="392.0" cy="468.2" r="1.3" fill="#777" />
<circle cx="405.5" cy="468.2" r="3.0" fill="#bdbdbd" />
<circle cx="405.5" cy="468.2" r="1.2" fill="#666" />
<circle cx="413.0" cy="468.2" r="3.0" fill="#bdbdbd" />
<circle cx="413.0" cy="468.2" r="1.2" fill="#666" />
<circle cx="420.2" cy="468.2" r="3" fill="#333" />
<circle cx="435" cy="468.2" r="3" fill="#e8e8e8" />
<rect x="345" y="473" width="105" height="19" fill="#8e8e8e" />
<rect x="345" y="473" width="105" height="2.5" fill="#555" />
<circle cx="377" cy="483.4" r="8.3" fill="#c4c4c4" />
<circle cx="377" cy="483.4" r="3.49" fill="#333" />
<circle cx="377" cy="483.4" r="5.5" fill="#9a9a9a" />
<circle cx="377" cy="483.4" r="2.4" fill="#333" />
<circle cx="398.2" cy="480.7" r="9" fill="#bdbdbd" />
<circle cx="398.2" cy="480.7" r="8.37" fill="none" stroke="#8a8a8a" stroke-width="0.6"/>
<circle cx="403.78" cy="480.7" r="1.71" fill="#333" />
<circle cx="400.99" cy="485.53" r="1.71" fill="#333" />
<circle cx="395.41" cy="485.53" r="1.71" fill="#333" />
<circle cx="392.62" cy="480.7" r="1.71" fill="#333" />
<circle cx="395.41" cy="475.87" r="1.71" fill="#333" />
<circle cx="400.99" cy="475.87" r="1.71" fill="#333" />
<line x1="395.86" y1="478.36" x2="400.54" y2="483.04" stroke="#333" stroke-width="1.8" />
<line x1="395.86" y1="483.04" x2="400.54" y2="478.36" stroke="#333" stroke-width="1.8" />
<circle cx="347.8" cy="483.4" r="3" fill="#c8c8c8" />
<circle cx="347.8" cy="483.4" r="1.3" fill="#555" />
<circle cx="355" cy="483.4" r="3" fill="#c8c8c8" />
<circle cx="355" cy="483.4" r="1.3" fill="#555" />
<line x1="420.2" y1="467" x2="432" y2="478.9" stroke="#c0c0c0" stroke-width="6" stroke-linecap="round"/>
<circle cx="420.2" cy="467.0" r="1.68" fill="#444" />
<circle cx="426.1" cy="472.95" r="1.68" fill="#444" />
<circle cx="432.0" cy="478.9" r="1.68" fill="#444" />
<rect x="408" y="476" width="32" height="15" fill="#565656" />
<path d="M440,468.7 Q455,482 470,482 Q490,478 506.7,468.7" stroke="#c23b37" stroke-width="1.6" fill="none" />
<line x1="440" y1="475" x2="465" y2="487" stroke="#c23b37" stroke-width="1.3" />
<rect x="360" y="497.5" width="21" height="7.5" fill="#b0b0b0" />
<rect x="364" y="491.7" width="7" height="7.0" fill="#333" />
<circle cx="366.2" cy="501.6" r="2.4" fill="#333" />
<circle cx="366.2" cy="501.6" r="1.4" fill="#f0f0f0" />
<rect x="383.5" y="491.7" width="62.5" height="9.3" fill="#c2c2c2" />
<circle cx="401.9" cy="496.7" r="2.1" fill="#333" />
<circle cx="409.2" cy="496.7" r="2.1" fill="#333" />
<circle cx="416.5" cy="496.7" r="2.1" fill="#333" />
<circle cx="423.8" cy="496.7" r="2.1" fill="#333" />
<circle cx="431.1" cy="496.7" r="2.1" fill="#333" />
<circle cx="438.4" cy="496.7" r="2.1" fill="#333" />
<circle cx="388" cy="496.7" r="2.1" fill="#777" />
<rect x="343.4" y="488" width="3.6" height="40" fill="#b0b0b0" />
<rect x="343.4" y="505.5" width="3.6" height="2.5" fill="#555" />
<rect x="347" y="519" width="37" height="3.6" fill="#b3b3b3" />
<polygon points="357,506 362,503.5 366.5,506 366,512 362,515 356,511" fill="#2a2a2a" />
<rect x="343.4" y="525" width="3.6" height="4" fill="#2a2a2a" />
<rect x="437.3" y="508.5" width="28.0" height="9.0" fill="#b8b8b8" />
<polygon points="452,517 465.3,517 465.3,526 458,526" fill="#b8b8b8" />
<circle cx="441.5" cy="513" r="2" fill="#f4f4f4" />
<circle cx="448.5" cy="513" r="2" fill="#f4f4f4" />
<circle cx="455.5" cy="513" r="2" fill="#f4f4f4" />
<rect x="440" y="488" width="16" height="12" fill="#9a9a9a" />
<rect x="384" y="501" width="14.7" height="94" fill="#b8b8b8" />
<line x1="386" y1="505" x2="389.5" y2="592" stroke="#b04545" stroke-width="1.1" />
<line x1="395.5" y1="505" x2="397" y2="592" stroke="#b04545" stroke-width="1.1" />
<circle cx="391.5" cy="508" r="1.7" fill="#555" />
<circle cx="391.5" cy="515" r="1.7" fill="#555" />
<circle cx="391.5" cy="522" r="1.7" fill="#555" />
<circle cx="391.5" cy="529" r="1.7" fill="#555" />
<circle cx="391.5" cy="536" r="1.7" fill="#555" />
<circle cx="391.5" cy="543" r="1.7" fill="#555" />
<circle cx="391.5" cy="550" r="1.7" fill="#555" />
<circle cx="391.5" cy="557" r="1.7" fill="#555" />
<circle cx="391.5" cy="564" r="1.7" fill="#555" />
<circle cx="391.5" cy="571" r="1.7" fill="#555" />
<circle cx="391.5" cy="578" r="1.7" fill="#555" />
<circle cx="391.5" cy="585" r="1.7" fill="#555" />
<rect x="398.7" y="501" width="16.0" height="84" fill="#c8c8c8" />
<rect x="401" y="515" width="11" height="45" fill="#e2e2e2" />
<rect x="398.7" y="505" width="2.6" height="60" fill="#3a3a3a" />
<line x1="403" y1="505" x2="403" y2="582" stroke="#b04545" stroke-width="1.1" />
<line x1="408" y1="505" x2="408" y2="582" stroke="#b04545" stroke-width="1.1" />
<rect x="414.7" y="501" width="14.6" height="93" fill="#424242" />
<circle cx="422" cy="506" r="1.6" fill="#555" />
<circle cx="422" cy="513" r="1.6" fill="#555" />
<circle cx="422" cy="520" r="1.6" fill="#555" />
<circle cx="422" cy="527" r="1.6" fill="#555" />
<circle cx="422" cy="534" r="1.6" fill="#555" />
<circle cx="422" cy="541" r="1.6" fill="#555" />
<circle cx="422" cy="548" r="1.6" fill="#555" />
<rect x="429.3" y="501" width="8.0" height="93" fill="#aaa" />
<circle cx="433.3" cy="506" r="1.8" fill="#333" />
<circle cx="433.3" cy="513" r="1.8" fill="#333" />
<circle cx="433.3" cy="520" r="1.8" fill="#333" />
<circle cx="433.3" cy="527" r="1.8" fill="#333" />
<circle cx="433.3" cy="534" r="1.8" fill="#333" />
<circle cx="433.3" cy="541" r="1.8" fill="#333" />
<circle cx="433.3" cy="548" r="1.8" fill="#333" />
<circle cx="433.3" cy="555" r="1.8" fill="#333" />
<circle cx="433.3" cy="562" r="1.8" fill="#333" />
<circle cx="433.3" cy="569" r="1.8" fill="#333" />
<circle cx="433.3" cy="576" r="1.8" fill="#333" />
<circle cx="433.3" cy="583" r="1.8" fill="#333" />
<rect x="398.7" y="564" width="16.0" height="31" fill="#a8a8a8" />
<circle cx="404" cy="580.7" r="2.2" fill="#444" />
<circle cx="411.3" cy="580.7" r="2" fill="#f2f2f2" />
<circle cx="404" cy="588.7" r="2" fill="#f2f2f2" />
<circle cx="411.3" cy="588.7" r="2" fill="#f2f2f2" />
<circle cx="434.5" cy="538.5" r="9.3" fill="#2a2a2a" />
<circle cx="434.5" cy="538.5" r="6.14" fill="#c2c2c2" />
<circle cx="434.5" cy="538.5" r="2.79" fill="#555" />
<circle cx="426.7" cy="560" r="11" fill="#c6c6c6" />
<circle cx="426.7" cy="560" r="10.23" fill="none" stroke="#8a8a8a" stroke-width="0.6"/>
<circle cx="433.52" cy="560.0" r="2.09" fill="#2a2a2a" />
<circle cx="430.11" cy="565.91" r="2.09" fill="#2a2a2a" />
<circle cx="423.29" cy="565.91" r="2.09" fill="#2a2a2a" />
<circle cx="419.88" cy="560.0" r="2.09" fill="#2a2a2a" />
<circle cx="423.29" cy="554.09" r="2.09" fill="#2a2a2a" />
<circle cx="430.11" cy="554.09" r="2.09" fill="#2a2a2a" />
<line x1="423.84" y1="557.14" x2="429.56" y2="562.86" stroke="#2a2a2a" stroke-width="2.2" />
<line x1="423.84" y1="562.86" x2="429.56" y2="557.14" stroke="#2a2a2a" stroke-width="2.2" />
<circle cx="426.7" cy="589.3" r="11" fill="#c6c6c6" />
<circle cx="426.7" cy="589.3" r="10.23" fill="none" stroke="#8a8a8a" stroke-width="0.6"/>
<circle cx="433.52" cy="589.3" r="2.09" fill="#2a2a2a" />
<circle cx="430.11" cy="595.21" r="2.09" fill="#2a2a2a" />
<circle cx="423.29" cy="595.21" r="2.09" fill="#2a2a2a" />
<circle cx="419.88" cy="589.3" r="2.09" fill="#2a2a2a" />
<circle cx="423.29" cy="583.39" r="2.09" fill="#2a2a2a" />
<circle cx="430.11" cy="583.39" r="2.09" fill="#2a2a2a" />
<line x1="423.84" y1="586.44" x2="429.56" y2="592.16" stroke="#2a2a2a" stroke-width="2.2" />
<line x1="423.84" y1="592.16" x2="429.56" y2="586.44" stroke="#2a2a2a" stroke-width="2.2" />
<circle cx="391.5" cy="588" r="7" fill="#c8c8c8" />
<circle cx="391.5" cy="588" r="4.2" fill="#333" />
<circle cx="391.5" cy="588" r="2.2" fill="#999" />
<circle cx="391.5" cy="588" r="1" fill="#333" />
<rect x="413.5" y="595.5" width="16.5" height="7.0" fill="#333" /></svg><!--/GUNS-->
</body></html>
